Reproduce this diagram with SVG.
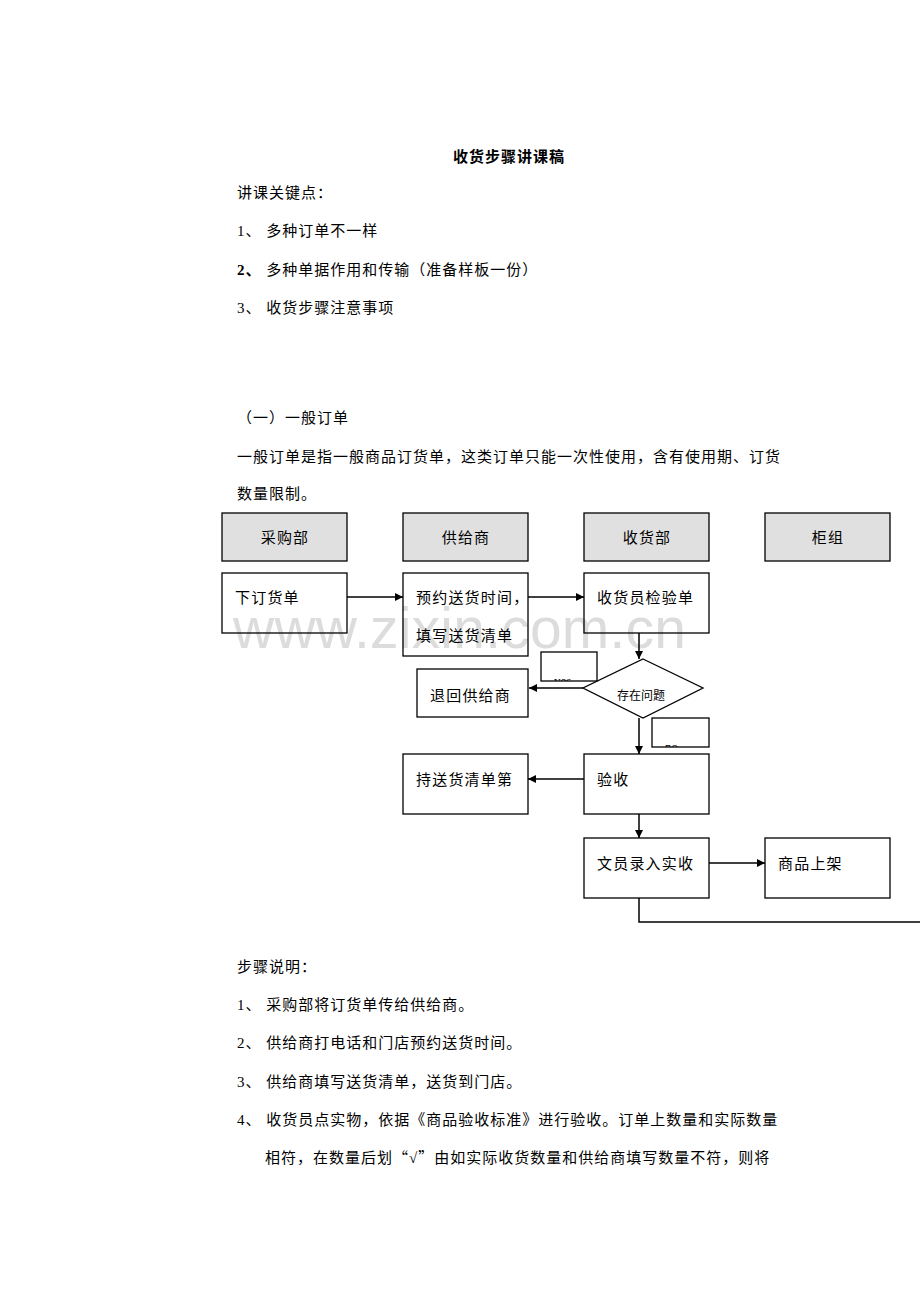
<svg xmlns="http://www.w3.org/2000/svg" width="920" height="1302" viewBox="0 0 920 1302">
<style>
.t{font-family:"Liberation Serif","Noto Sans CJK SC",serif;font-size:15px;fill:#000;letter-spacing:1px}
.bt{font-family:"Liberation Serif","Noto Sans CJK SC",serif;font-size:15px;fill:#000;letter-spacing:1.2px}
.cj{font-family:"Noto Sans CJK SC",sans-serif}
.box{fill:none;stroke:#000;stroke-width:1.3}
.hdr{fill:#e0e0e0;stroke:#000;stroke-width:1.3}
.ln{fill:none;stroke:#000;stroke-width:1.5}
.wm{font-family:"Liberation Sans",Arial,sans-serif;font-size:57px;fill:#dcdcdc}
</style>
<defs>
<marker id="ah" viewBox="0 0 10 10" refX="10" refY="5" markerWidth="8" markerHeight="8" markerUnits="userSpaceOnUse" orient="auto">
<path d="M0,0 L10,5 L0,10 z" fill="#000"/>
</marker>
<clipPath id="cy"><rect x="541" y="652" width="56" height="29"/></clipPath>
<clipPath id="cn"><rect x="652" y="718" width="57" height="29"/></clipPath>
</defs>
<rect width="920" height="1302" fill="#fff"/>
<text x="509" y="162" text-anchor="middle" class="t" font-weight="bold">收货步骤讲课稿</text>
<text x="237" y="198" class="t">讲课关键点：</text>
<text x="237" y="236" class="t">1、 多种订单不一样</text>
<text x="237" y="275" class="t"><tspan font-weight="bold">2、</tspan> 多种单据作用和传输（准备样板一份）</text>
<text x="237" y="313" class="t">3、 收货步骤注意事项</text>
<text x="237" y="423" class="t">（一）一般订单</text>
<text x="237" y="462" class="t">一般订单是指一般商品订货单，这类订单只能一次性使用，含有使用期、订货</text>
<text x="237" y="499" class="t">数量限制。</text>
<text x="233" y="648" class="wm" textLength="453">www.zixin.com.cn</text>
<g id="connectors">
<line class="ln" x1="347" y1="597" x2="403" y2="597" marker-end="url(#ah)"/>
<line class="ln" x1="528" y1="597" x2="584" y2="597" marker-end="url(#ah)"/>
<line class="ln" x1="639" y1="633" x2="639" y2="659" marker-end="url(#ah)"/>
<line class="ln" x1="583" y1="688" x2="529" y2="688" marker-end="url(#ah)"/>
<line class="ln" x1="639" y1="718" x2="639" y2="754" marker-end="url(#ah)"/>
<line class="ln" x1="584" y1="779" x2="528" y2="779" marker-end="url(#ah)"/>
<line class="ln" x1="639" y1="814" x2="639" y2="838" marker-end="url(#ah)"/>
<line class="ln" x1="709" y1="863" x2="765" y2="863" marker-end="url(#ah)"/>
<polyline class="ln" points="639,898 639,922 920,922"/>
</g>
<g id="h1"><rect class="hdr" x="222" y="513" width="125" height="48"/><text x="285" y="543" text-anchor="middle" class="bt">采购部</text></g>
<g id="h2"><rect class="hdr" x="403" y="513" width="125" height="48"/><text x="466" y="543" text-anchor="middle" class="bt">供给商</text></g>
<g id="h3"><rect class="hdr" x="584" y="513" width="125" height="48"/><text x="647" y="543" text-anchor="middle" class="bt">收货部</text></g>
<g id="h4"><rect class="hdr" x="765" y="513" width="125" height="48"/><text x="828" y="543" text-anchor="middle" class="bt">柜组</text></g>
<g id="n1"><rect class="box" x="222" y="573" width="125" height="60"/><text x="235" y="603" class="bt">下订货单</text></g>
<g id="n2"><rect class="box" x="403" y="573" width="125" height="83"/><text x="416" y="603" class="bt">预约送货时间，</text><text x="416" y="641" class="bt">填写送货清单</text></g>
<g id="n3"><rect class="box" x="584" y="573" width="125" height="60"/><text x="597" y="603" class="bt">收货员检验单</text></g>
<g id="yes"><rect class="box" x="541" y="652" width="56" height="29"/><text x="554" y="685" clip-path="url(#cy)" font-family="Liberation Serif,serif" font-size="13">yes</text></g>
<g id="d1"><polygon class="box" points="643,659 703,688 643,718 583,688"/><text x="641" y="700" text-anchor="middle" font-family="Liberation Serif,'Noto Sans CJK SC',serif" font-size="12">存在问题</text></g>
<g id="n4"><rect class="box" x="417" y="669" width="111" height="48"/><text x="430" y="701" class="bt">退回供给商</text></g>
<g id="no"><rect class="box" x="652" y="718" width="57" height="29"/><text x="665" y="751" clip-path="url(#cn)" font-family="Liberation Serif,serif" font-size="13">no</text></g>
<g id="n5"><rect class="box" x="584" y="754" width="125" height="60"/><text x="597" y="785" class="bt">验收</text></g>
<g id="n6"><rect class="box" x="403" y="754" width="125" height="60"/><text x="416" y="785" class="bt">持送货清单第</text></g>
<g id="n7"><rect class="box" x="584" y="838" width="125" height="60"/><text x="597" y="869" class="bt">文员录入实收</text></g>
<g id="n8"><rect class="box" x="765" y="838" width="125" height="60"/><text x="778" y="869" class="bt">商品上架</text></g>
<text x="237" y="972" class="t">步骤说明：</text>
<text x="237" y="1010" class="t">1、 采购部将订货单传给供给商。</text>
<text x="237" y="1048" class="t">2、 供给商打电话和门店预约送货时间。</text>
<text x="237" y="1087" class="t">3、 供给商填写送货清单，送货到门店。</text>
<text x="237" y="1125" class="t">4、 收货员点实物，依据《商品验收标准》进行验收。订单上数量和实际数量</text>
<text x="265" y="1163" class="t">相符，在数量后划<tspan class="cj">“</tspan>√<tspan class="cj">”</tspan>由如实际收货数量和供给商填写数量不符，则将</text>
</svg>
